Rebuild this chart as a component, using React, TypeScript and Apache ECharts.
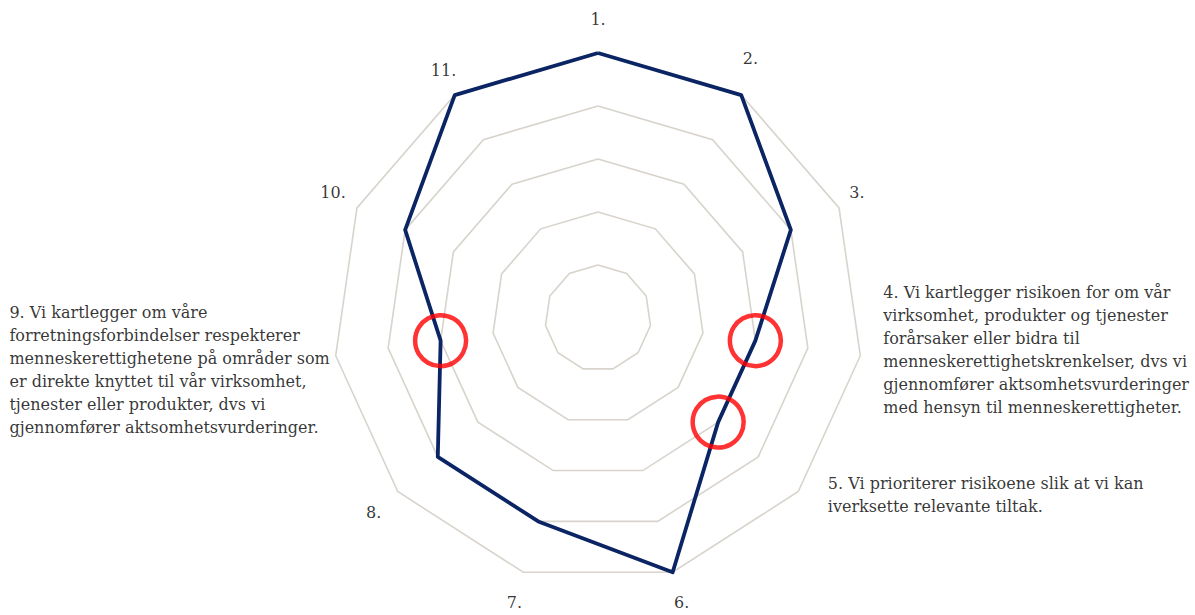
import React, { useEffect, useRef } from 'react';
import * as echarts from 'echarts';

// ---- data ----
const indicators = ['1.', '2.', '3.', '4.', '5.', '6.', '7.', '8.', '9.', '10.', '11.'];
const values = [5, 5, 4, 3, 3, 5, 4, 4, 3, 4, 5];
const maxValue = 5;
const highlighted = [3, 4, 8]; // indices of items 4, 5 and 9
const labelTexts: string[][] = [
  ['1.'],
  ['2.'],
  ['3.'],
  [
    '4. Vi kartlegger risikoen for om vår',
    'virksomhet, produkter og tjenester',
    'forårsaker eller bidra til',
    'menneskerettighetskrenkelser, dvs vi',
    'gjennomfører aktsomhetsvurderinger',
    'med hensyn til menneskerettigheter.',
  ],
  ['5. Vi prioriterer risikoene slik at vi kan', 'iverksette relevante tiltak.'],
  ['6.'],
  ['7.'],
  ['8.'],
  [
    '9. Vi kartlegger om våre',
    'forretningsforbindelser respekterer',
    'menneskerettighetene på områder som',
    'er direkte knyttet til vår virksomhet,',
    'tjenester eller produkter, dvs vi',
    'gjennomfører aktsomhetsvurderinger.',
  ],
  ['10.'],
  ['11.'],
];

// ---- layout / style ----
const CENTER: [number, number] = [598, 318];
const RADIUS = 265;
const LABEL_R = 5.6;
const FONT = "'DejaVu Serif', 'Liberation Serif', serif";
const FONT_SIZE = 16;
const TEXT_COLOR = '#000000';
const longLabelPlacement: Record<number, any> = {
  3: { position: 'right', distance: 0, offset: [-9, -10] },
  4: { position: 'right', distance: 0, offset: [5, -17] },
  8: { position: 'left', distance: 0, offset: [26, 10] },
};
const shortLabelOffset: Record<number, [number, number]> = {
  0: [0, -2],
  1: [-8, -10],
  2: [-11, -2],
  9: [5, -2],
  10: [6, 2],
};

// radar draws counter-clockwise, so feed it in reversed order to get clockwise layout
const radarOrder = indicators.map((_, i) => (i === 0 ? 0 : indicators.length - i));

export default function App() {
  const ref = useRef<HTMLDivElement>(null);
  useEffect(() => {
    const chart = echarts.init(ref.current!, undefined, { renderer: 'svg' });
    const option: any = {
      animation: false,
      backgroundColor: '#ffffff',
      radar: {
        center: CENTER,
        radius: RADIUS,
        startAngle: 90,
        splitNumber: 5,
        shape: 'polygon',
        indicator: radarOrder.map((i) => ({ name: indicators[i], min: 0, max: maxValue })),
        axisName: { show: false },
        axisLine: { show: false },
        axisTick: { show: false },
        axisLabel: { show: false },
        splitArea: { show: false },
        splitLine: { lineStyle: { color: '#d8d3cc', width: 1.6 } },
      },
      polar: { center: CENTER, radius: RADIUS },
      angleAxis: {
        type: 'value',
        min: 0,
        max: indicators.length,
        startAngle: 90,
        clockwise: true,
        show: false,
      },
      radiusAxis: { type: 'value', min: 0, max: maxValue, show: false },
      series: [
        {
          type: 'radar',
          symbol: 'none',
          lineStyle: { color: '#0b2464', width: 3.8 },
          areaStyle: { opacity: 0 },
          data: [{ value: radarOrder.map((i) => values[i]), name: 'Score' }],
        },
        {
          type: 'scatter',
          coordinateSystem: 'polar',
          clip: false,
          silent: true,
          symbol: 'circle',
          symbolSize: 51,
          itemStyle: { color: 'rgba(0,0,0,0)', borderColor: '#ff0000', borderWidth: 4.5 },
          data: highlighted.map((i) => [values[i], i]),
          z: 5,
        },
        {
          type: 'scatter',
          coordinateSystem: 'polar',
          clip: false,
          silent: true,
          symbol: 'circle',
          symbolSize: 1,
          itemStyle: { color: 'rgba(0,0,0,0)' },
          data: indicators.map((name, i) => ({
            name,
            value: [LABEL_R, i],
            label: longLabelPlacement[i] || {
              position: 'inside',
              offset: shortLabelOffset[i] || [0, 0],
            },
          })),
          label: {
            show: true,
            color: TEXT_COLOR,
            fontFamily: FONT,
            fontSize: FONT_SIZE,
            lineHeight: 23,
            formatter: (p: any) => labelTexts[p.dataIndex].map((l) => `{l|${l}}`).join('\n'),
            rich: {
              l: { align: 'left', color: TEXT_COLOR, fontFamily: FONT, fontSize: FONT_SIZE, lineHeight: 23 },
            },
          },
        },
      ],
    };
    chart.setOption(option);
    return () => chart.dispose();
  }, []);
  return (
    <div
      ref={ref}
      style={{ position: 'absolute', left: 0, top: 0, width: 1195, height: 615 }}
    />
  );
}
